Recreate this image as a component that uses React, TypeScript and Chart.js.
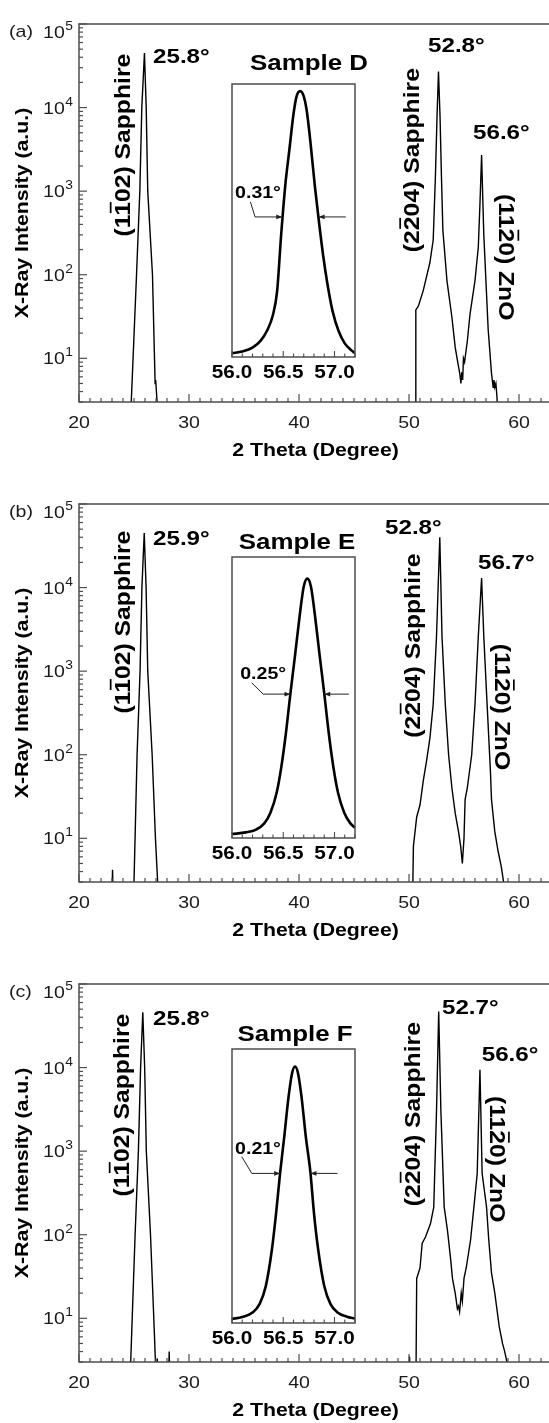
import React, { useEffect, useRef } from "react";
import { Chart, registerables } from "chart.js";

Chart.register(...registerables);

// ---------------- data ----------------
// Panel (a) - Sample D, 2θ scan (counts, log scale; values < 3 fall below the axis)
const scanA_2theta = [20, 24.55, 24.75, 25.23, 25.53, 25.71, 25.95, 26.11, 26.25, 26.68, 26.85, 26.92, 26.97, 27.1, 27.2, 50.55, 50.62, 50.85, 51.3, 51.9, 52.2, 52.4, 52.55, 52.68, 52.82, 52.95, 53.08, 53.45, 53.9, 54.2, 54.45, 54.62, 54.72, 54.8, 54.88, 54.95, 55.05, 55.3, 55.55, 56.0, 56.3, 56.45, 56.6, 56.72, 56.8, 57.2, 57.5, 57.65, 57.72, 57.8, 57.9, 58.0, 58.1, 58.25, 63];
const scanA_counts = [1, 1, 3, 100, 1000, 10000, 45000, 10000, 1000, 100, 12, 5, 5.5, 3, 1, 1, 38, 42, 65, 140, 260, 1500, 8000, 27000, 8000, 1500, 340, 85, 31, 13.5, 8.7, 6.5, 5.0, 6.8, 5.5, 10, 9, 16, 34, 85, 213, 700, 2700, 700, 300, 22, 6.6, 4.5, 5.5, 4.5, 5, 3.4, 2.5, 1, 1];

// Panel (b) - Sample E
const scanB_2theta = [20, 22.95, 23.05, 23.15, 24.85, 25.0, 25.28, 25.55, 25.72, 25.93, 26.1, 26.25, 26.65, 26.95, 27.15, 27.25, 50.3, 50.4, 50.7, 51.0, 51.3, 51.6, 51.9, 52.2, 52.5, 52.8, 53.0, 53.3, 53.6, 53.9, 54.2, 54.5, 54.7, 54.85, 55.0, 55.1, 55.3, 55.7, 56.0, 56.3, 56.6, 56.8, 57.1, 57.4, 57.5, 57.8, 58.1, 58.4, 58.6, 58.7, 63];
const scanB_counts = [1, 1, 4.2, 1, 1, 3, 100, 1000, 10000, 45000, 10000, 1000, 100, 10, 3, 1, 1, 8, 18, 25, 49, 85, 158, 400, 2600, 40000, 2600, 400, 100, 40, 20, 12, 8, 5, 10, 29, 40, 100, 400, 2600, 13000, 2600, 400, 65, 29, 12, 7, 4.5, 3, 1, 1];

// Panel (c) - Sample F
const scanC_2theta = [20, 24.55, 24.7, 25.1, 25.4, 25.6, 25.8, 25.97, 26.12, 26.5, 26.8, 26.95, 27.05, 27.12, 27.2, 28.1, 28.2, 28.3, 49.95, 50.05, 50.15, 50.62, 50.7, 51.0, 51.2, 51.5, 51.95, 52.25, 52.5, 52.7, 52.9, 53.2, 53.5, 53.8, 53.95, 54.2, 54.4, 54.5, 54.6, 54.75, 54.85, 55.0, 55.2, 55.6, 55.9, 56.2, 56.45, 56.65, 57.05, 57.25, 57.5, 57.8, 58.2, 58.5, 58.7, 58.9, 59.0, 63];
const scanC_counts = [1, 1, 3, 100, 1000, 10000, 46000, 10000, 1000, 100, 10, 3, 1, 3.3, 1, 1, 4, 1, 1, 3.5, 1, 1, 30, 40, 79, 94, 135, 214, 3000, 47000, 3000, 214, 112, 49, 30, 20, 13, 14, 12, 20, 16, 30, 40, 87, 214, 540, 9400, 540, 214, 87, 35, 20, 8, 5, 4, 3, 1, 1];

// Insets: ZnO (11-20) peak profile, intensity in % of inset height
const insetA_2theta = [56.0, 56.1, 56.2, 56.28, 56.34, 56.4, 56.44, 56.48, 56.52, 56.56, 56.6, 56.63, 56.665, 56.7, 56.73, 56.77, 56.81, 56.85, 56.89, 56.93, 56.98, 57.04, 57.1, 57.16, 57.2];
const insetA_int = [1.4, 2.0, 3.4, 6.0, 9.5, 15.5, 24, 45, 63, 76, 89, 95.5, 97.4, 95.5, 90, 77, 62, 49, 37, 27, 17, 9.5, 5, 2.6, 1.4];

const insetB_2theta = [56.0, 56.135, 56.235, 56.315, 56.375, 56.435, 56.48, 56.525, 56.567, 56.615, 56.66, 56.7, 56.735, 56.77, 56.81, 56.855, 56.903, 56.945, 56.99, 57.035, 57.095, 57.155, 57.2];
const insetB_int = [1.4, 2.0, 3.0, 5.2, 9, 16, 25, 37, 50.5, 65, 79, 89.5, 92.3, 89.5, 79, 65, 50.5, 37, 25, 16, 9, 5.2, 3.6];

const insetC_2theta = [56.0, 56.1, 56.2, 56.27, 56.33, 56.39, 56.43, 56.47, 56.51, 56.55, 56.585, 56.615, 56.645, 56.68, 56.72, 56.765, 56.8, 56.84, 56.9, 56.96, 57.03, 57.12, 57.2];
const insetC_int = [1.5, 2.2, 3.8, 7, 13.5, 27, 40, 55, 68, 82, 91, 93.6, 91, 82, 68, 55, 40, 27, 13.5, 7, 3.8, 2.3, 1.6];

// Tick labels and texts
const xTickValues = [20, 30, 40, 50, 60];
const yDecadeValues = [10, 100, 1000, 10000, 100000];
const yDecadeExponents = ["1", "2", "3", "4", "5"];
const insetTickValues = [56.0, 56.5, 57.0];
const insetTickLabels = ["56.0", "56.5", "57.0"];

const panelLetters = ["(a)", "(b)", "(c)"];
const sampleNames = ["Sample D", "Sample E", "Sample F"];
const fwhmLabels = ["0.31°", "0.25°", "0.21°"];
const peakLabelsA = ["25.8°", "52.8°", "56.6°"];
const peakLabelsB = ["25.9°", "52.8°", "56.7°"];
const peakLabelsC = ["25.8°", "52.7°", "56.6°"];
const sapphireLowText = "(1102) Sapphire"; // bar over 2nd "1"
const sapphireHighText = "(2204) Sapphire"; // bar over 2nd "2"
const znoText = "(1120) ZnO"; // bar over "2"
const xTitle = "2 Theta (Degree)";
const yTitle = "X-Ray Intensity (a.u.)";

// ---------------- layout ----------------
const FONT = "'Liberation Sans', Arial, Helvetica, sans-serif";
const STRETCH = 1.15;
const INK = "#000";
const TICK_INK = "#1a1a1a";
const FRAME = "#4d4d4d";
const W = 560;
const H = 480;
const AREA = { left: 79, top: 24, right: 552, bottom: 402 };
const INSET_LEFT = 232;
const INSET_RIGHT = 355;
const TOP_LABEL_DROP = 8;
const insetTopBottom = [
  [84, 357],
  [77, 358],
  [89, 363],
];

// annotation anchors in data coordinates of the main axes [2θ, counts]
const annotations = [
  {
    peaks: peakLabelsA,
    peakPos: [[26.73, 42500], [51.73, 56100], [55.82, 5240]],
    lowPos: [23.91, 3560],
    highPos: [50.23, 2350],
    znoPos: [58.91, 162],
    samplePos: [40.91, 35100],
  },
  {
    peaks: peakLabelsB,
    peakPos: [[26.73, 40300], [47.82, 53700], [56.27, 20700]],
    lowPos: [23.91, 3870],
    highPos: [50.27, 2020],
    znoPos: [58.5, 373],
    samplePos: [39.82, 36000],
  },
  {
    peaks: peakLabelsC,
    peakPos: [[26.73, 39700], [53.0, 53700], [56.61, 14900]],
    lowPos: [23.82, 3560],
    highPos: [50.27, 2770],
    znoPos: [58.05, 802],
    samplePos: [39.64, 26200],
  },
];

// FWHM markers in inset data coordinates [2θ, % height]
const fwhmMarks = [
  { label: [56.03, 60.4], leader: [[56.18, 56.8], [56.225, 51.3], [56.49, 51.3]], right: [[57.11, 51.3], [56.845, 51.3]] },
  { label: [56.08, 58.8], leader: [[56.193, 55.2], [56.304, 51.2], [56.57, 51.2]], right: [[57.14, 51.2], [56.9, 51.2]] },
  { label: [56.03, 63.9], leader: [[56.095, 60.7], [56.193, 54.6], [56.47, 54.6]], right: [[57.03, 54.6], [56.765, 54.6]] },
];

const scans = [
  [scanA_2theta, scanA_counts],
  [scanB_2theta, scanB_counts],
  [scanC_2theta, scanC_counts],
];
const insets = [
  [insetA_2theta, insetA_int],
  [insetB_2theta, insetB_int],
  [insetC_2theta, insetC_int],
];

// ---------------- drawing helpers ----------------
type TextOpts = {
  size: number;
  bold?: boolean;
  align?: "left" | "center" | "right";
  rotate?: number;
  overline?: number;
  color?: string;
  stretch?: number;
};

function drawText(ctx: CanvasRenderingContext2D, text: string, x: number, y: number, o: TextOpts) {
  const size = o.size;
  ctx.save();
  ctx.translate(x, y);
  if (o.rotate) ctx.rotate(o.rotate);
  ctx.scale(o.stretch ?? STRETCH, 1);
  ctx.font = `${o.bold ? "bold " : ""}${size}px ${FONT}`;
  ctx.fillStyle = o.color ?? INK;
  ctx.textAlign = "left";
  ctx.textBaseline = "alphabetic";
  const w = ctx.measureText(text).width;
  const x0 = o.align === "center" ? -w / 2 : o.align === "right" ? -w : 0;
  const cap = size * 0.716;
  const y0 = cap / 2;
  ctx.fillText(text, x0, y0);
  if (o.overline != null) {
    const pre = ctx.measureText(text.slice(0, o.overline)).width;
    const cw = ctx.measureText(text.charAt(o.overline)).width;
    const lw = Math.max(1.3, size * 0.08);
    ctx.fillRect(x0 + pre + cw * 0.1, y0 - cap - size * 0.13 - lw, cw * 0.8, lw);
  }
  ctx.restore();
}

function drawPow(ctx: CanvasRenderingContext2D, base: string, exp: string, xRight: number, yMid: number) {
  ctx.save();
  ctx.translate(xRight, yMid);
  ctx.scale(STRETCH, 1);
  ctx.fillStyle = TICK_INK;
  ctx.textAlign = "left";
  ctx.textBaseline = "alphabetic";
  ctx.font = `17px ${FONT}`;
  const wb = ctx.measureText(base).width;
  ctx.font = `12px ${FONT}`;
  const we = ctx.measureText(exp).width;
  const total = wb + we + 0.5;
  const base0 = (17 * 0.716) / 2;
  ctx.font = `17px ${FONT}`;
  ctx.fillText(base, -total, base0);
  ctx.font = `12px ${FONT}`;
  ctx.fillText(exp, -total + wb + 0.5, base0 - 8);
  ctx.restore();
}

function line(ctx: CanvasRenderingContext2D, x1: number, y1: number, x2: number, y2: number) {
  ctx.beginPath();
  ctx.moveTo(x1, y1);
  ctx.lineTo(x2, y2);
  ctx.stroke();
}

function arrowHead(ctx: CanvasRenderingContext2D, fx: number, fy: number, tx: number, ty: number) {
  const ang = Math.atan2(ty - fy, tx - fx);
  const len = 6;
  const hw = 2.4;
  ctx.beginPath();
  ctx.moveTo(tx, ty);
  ctx.lineTo(tx - len * Math.cos(ang) + hw * Math.sin(ang), ty - len * Math.sin(ang) - hw * Math.cos(ang));
  ctx.lineTo(tx - len * Math.cos(ang) - hw * Math.sin(ang), ty - len * Math.sin(ang) + hw * Math.cos(ang));
  ctx.closePath();
  ctx.fill();
}

function mainPlugin(p: number) {
  return {
    id: "mainDecor" + p,
    afterDraw(chart: any) {
      const ctx: CanvasRenderingContext2D = chart.ctx;
      const xs = chart.scales.x;
      const ys = chart.scales.y;
      const a = chart.chartArea;
      ctx.save();
      ctx.strokeStyle = FRAME;
      ctx.lineWidth = 1.5;
      ctx.strokeRect(a.left, a.top, a.right - a.left, a.bottom - a.top);
      ctx.lineWidth = 1.2;
      for (let v = 20; v <= 63; v++) {
        const px = xs.getPixelForValue(v);
        const len = v % 10 === 0 ? 8 : 4;
        line(ctx, px, a.bottom, px, a.bottom - len);
      }
      for (let d = 0; d <= 5; d++) {
        for (let m = 1; m <= 9; m++) {
          const v = m * Math.pow(10, d);
          if (v < 3 || v > 100000) continue;
          const py = ys.getPixelForValue(v);
          const len = m === 1 ? 8 : 4;
          line(ctx, a.left, py, a.left + len, py);
        }
      }
      // tick labels
      xTickValues.forEach((v) => {
        drawText(ctx, String(v), xs.getPixelForValue(v), a.bottom + 20, { size: 17, align: "center", color: TICK_INK });
      });
      yDecadeValues.forEach((v, i) => {
        const py = ys.getPixelForValue(v);
        const drop = Math.abs(py - a.top) < 1 ? TOP_LABEL_DROP : 0;
        drawPow(ctx, "10", yDecadeExponents[i], a.left - 6, py + drop);
      });
      // axis titles
      drawText(ctx, xTitle, (AREA.left + AREA.right) / 2, a.bottom + 47, { size: 18.5, bold: true, align: "center" });
      drawText(ctx, yTitle, 21, (a.top + a.bottom) / 2, { size: 18.5, bold: true, align: "center", rotate: -Math.PI / 2 });
      drawText(ctx, panelLetters[p], 9, 31, { size: 17, color: TICK_INK });
      // annotations
      const an = annotations[p];
      an.peaks.forEach((t, i) => {
        const [x, y] = an.peakPos[i];
        drawText(ctx, t, xs.getPixelForValue(x), ys.getPixelForValue(y), { size: 21, bold: true });
      });
      drawText(ctx, sapphireLowText, xs.getPixelForValue(an.lowPos[0]), ys.getPixelForValue(an.lowPos[1]), {
        size: 21.5, bold: true, align: "center", rotate: -Math.PI / 2, overline: 2,
      });
      drawText(ctx, sapphireHighText, xs.getPixelForValue(an.highPos[0]), ys.getPixelForValue(an.highPos[1]), {
        size: 21.5, bold: true, align: "center", rotate: -Math.PI / 2, overline: 2,
      });
      drawText(ctx, znoText, xs.getPixelForValue(an.znoPos[0]), ys.getPixelForValue(an.znoPos[1]), {
        size: 21.5, bold: true, align: "center", rotate: Math.PI / 2, overline: 3,
      });
      drawText(ctx, sampleNames[p], xs.getPixelForValue(an.samplePos[0]), ys.getPixelForValue(an.samplePos[1]), {
        size: 22.5, bold: true, align: "center",
      });
      ctx.restore();
    },
  };
}

function insetPlugin(p: number) {
  return {
    id: "insetDecor" + p,
    beforeDatasetsDraw(chart: any) {
      const ctx: CanvasRenderingContext2D = chart.ctx;
      const a = chart.chartArea;
      ctx.save();
      ctx.fillStyle = "#fff";
      ctx.fillRect(a.left, a.top, a.right - a.left, a.bottom - a.top);
      ctx.restore();
    },
    afterDraw(chart: any) {
      const ctx: CanvasRenderingContext2D = chart.ctx;
      const xs = chart.scales.x;
      const ys = chart.scales.y;
      const a = chart.chartArea;
      ctx.save();
      ctx.strokeStyle = FRAME;
      ctx.lineWidth = 1.5;
      ctx.strokeRect(a.left, a.top, a.right - a.left, a.bottom - a.top);
      ctx.lineWidth = 1.1;
      for (let k = 0; k <= 12; k++) {
        const v = 56 + k * 0.1;
        const px = xs.getPixelForValue(v);
        const len = k % 5 === 0 ? 6 : 3.5;
        line(ctx, px, a.bottom, px, a.bottom - len);
      }
      insetTickValues.forEach((v, i) => {
        drawText(ctx, insetTickLabels[i], xs.getPixelForValue(v), a.bottom + 15, { size: 18, bold: true, align: "center" });
      });
      // FWHM marker
      const f = fwhmMarks[p];
      drawText(ctx, fwhmLabels[p], xs.getPixelForValue(f.label[0]), ys.getPixelForValue(f.label[1]), { size: 17, bold: true });
      ctx.strokeStyle = "#222";
      ctx.fillStyle = "#222";
      ctx.lineWidth = 1;
      const pts = f.leader.map(([x, y]) => [xs.getPixelForValue(x), ys.getPixelForValue(y)]);
      ctx.beginPath();
      pts.forEach(([x, y], i) => (i === 0 ? ctx.moveTo(x, y) : ctx.lineTo(x, y)));
      ctx.stroke();
      const n = pts.length;
      arrowHead(ctx, pts[n - 2][0], pts[n - 2][1], pts[n - 1][0], pts[n - 1][1]);
      const r = f.right.map(([x, y]) => [xs.getPixelForValue(x), ys.getPixelForValue(y)]);
      line(ctx, r[0][0], r[0][1], r[1][0], r[1][1]);
      arrowHead(ctx, r[0][0], r[0][1], r[1][0], r[1][1]);
      ctx.restore();
    },
  };
}

function mainConfig(p: number): any {
  const [xs, ys] = scans[p];
  return {
    type: "line",
    data: {
      datasets: [
        {
          data: xs.map((x, i) => ({ x, y: ys[i] })),
          borderColor: "#000",
          borderWidth: 1.4,
          pointRadius: 0,
          tension: 0,
          fill: false,
        },
      ],
    },
    options: {
      responsive: false,
      animation: false,
      events: [],
      layout: { padding: { left: AREA.left, top: AREA.top, right: W - AREA.right, bottom: H - AREA.bottom } },
      plugins: { legend: { display: false }, tooltip: { enabled: false } },
      scales: {
        x: { type: "linear", min: 20, max: 63, display: false },
        y: { type: "logarithmic", min: 3, max: 100000, display: false },
      },
    },
    plugins: [mainPlugin(p)],
  };
}

function insetConfig(p: number): any {
  const [xs, ys] = insets[p];
  const [top, bottom] = insetTopBottom[p];
  return {
    type: "line",
    data: {
      datasets: [
        {
          data: xs.map((x, i) => ({ x, y: ys[i] })),
          borderColor: "#000",
          borderWidth: 2.6,
          pointRadius: 0,
          cubicInterpolationMode: "monotone",
          fill: false,
        },
      ],
    },
    options: {
      responsive: false,
      animation: false,
      events: [],
      layout: { padding: { left: INSET_LEFT, top, right: W - INSET_RIGHT, bottom: H - bottom } },
      plugins: { legend: { display: false }, tooltip: { enabled: false } },
      scales: {
        x: { type: "linear", min: 56.0, max: 57.2, display: false },
        y: { type: "linear", min: 0, max: 100, display: false },
      },
    },
    plugins: [insetPlugin(p)],
  };
}

export default function App() {
  const mainRefs = useRef<(HTMLCanvasElement | null)[]>([]);
  const insetRefs = useRef<(HTMLCanvasElement | null)[]>([]);

  useEffect(() => {
    const charts: Chart[] = [];
    for (let p = 0; p < 3; p++) {
      const mc = mainRefs.current[p];
      const ic = insetRefs.current[p];
      if (mc) charts.push(new Chart(mc, mainConfig(p)));
      if (ic) charts.push(new Chart(ic, insetConfig(p)));
    }
    return () => charts.forEach((c) => c.destroy());
  }, []);

  return (
    <div style={{ position: "absolute", left: 0, top: 0, width: 549, height: 1423, overflow: "hidden", background: "#fff" }}>
      {[0, 1, 2].map((p) => (
        <React.Fragment key={p}>
          <canvas
            ref={(el) => {
              mainRefs.current[p] = el;
            }}
            width={W}
            height={H}
            style={{ position: "absolute", left: 0, top: p * 480, width: W, height: H }}
          />
          <canvas
            ref={(el) => {
              insetRefs.current[p] = el;
            }}
            width={W}
            height={H}
            style={{ position: "absolute", left: 0, top: p * 480, width: W, height: H }}
          />
        </React.Fragment>
      ))}
    </div>
  );
}
